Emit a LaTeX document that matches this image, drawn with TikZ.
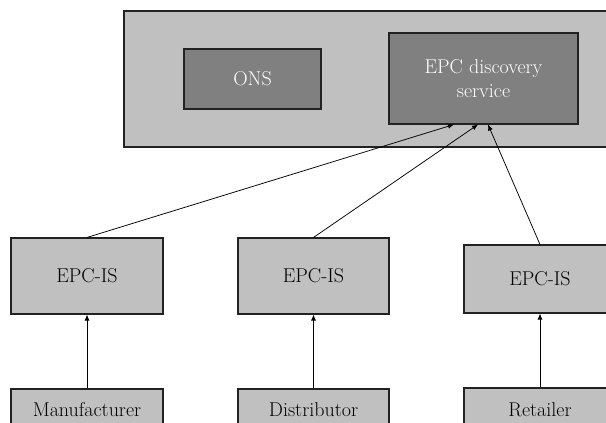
\documentclass[tikz,border=0pt]{standalone}
\usetikzlibrary{arrows.meta}
\definecolor{panel}{HTML}{C0C0C0}
\definecolor{core}{HTML}{808080}
\definecolor{edge}{HTML}{222222}
\begin{document}
\begin{tikzpicture}[x=1pt,y=-1pt,
  box/.style={draw=edge,line width=1.1pt,fill=panel,inner sep=0pt},
  darkbox/.style={box,fill=core,text=white,align=center,font=\fontsize{20}{24}\selectfont},
  txt/.style={inner sep=0pt,text=black,font=\fontsize{20}{24}\selectfont},
  link/.style={-{Latex[length=6pt,width=5pt]},line width=0.75pt,draw=black}]
\useasboundingbox (0,0) rectangle (606,423);
\clip (0,0) rectangle (606,423);
% lookup services panel
\node[box,minimum width=500pt,minimum height=136pt] (cloud) at (374,79) {};
\node[darkbox,minimum width=137pt,minimum height=60pt] (ons) at (252.5,79) {ONS};
\node[darkbox,minimum width=189pt,minimum height=91pt] (eds) at (483.5,78.5) {EPC discovery\\service};
% information services
\node[box,minimum width=152pt,minimum height=76pt] (is1) at (87,276) {};
\node[box,minimum width=151pt,minimum height=76pt] (is2) at (313.5,276) {};
\node[box,minimum width=152pt,minimum height=68pt] (is3) at (540,279) {};
\node[txt] (is1t) at (is1) {EPC-IS};
\node[txt] (is2t) at (is2) {EPC-IS};
\node[txt] (is3t) at (is3) {EPC-IS};
% supply chain partners
\node[box,minimum width=152pt,minimum height=60pt] (man) at (87,419) {};
\node[box,minimum width=151pt,minimum height=60pt] (dist) at (313.5,419) {};
\node[box,minimum width=152pt,minimum height=60pt] (ret) at (540,418) {};
\node[txt,anchor=base] (mant) at (87,416) {Manufacturer};
\node[txt,anchor=base] (distt) at (313.5,416) {Distributor};
\node[txt,anchor=base] (rett) at (540,416) {Retailer};
% arrival points on the discovery service
\coordinate (in1) at (454,124.5);
\coordinate (in2) at (478,124.5);
\coordinate (in3) at (488,124.5);
% connectors
\draw[link] (man.north) -- (is1.south);
\draw[link] (dist.north) -- (is2.south);
\draw[link] (ret.north) -- (is3.south);
\draw[link] (is1.north) -- (in1);
\draw[link] (is2.north) -- (in2);
\draw[link] (is3.north) -- (in3);
\end{tikzpicture}
\end{document}
